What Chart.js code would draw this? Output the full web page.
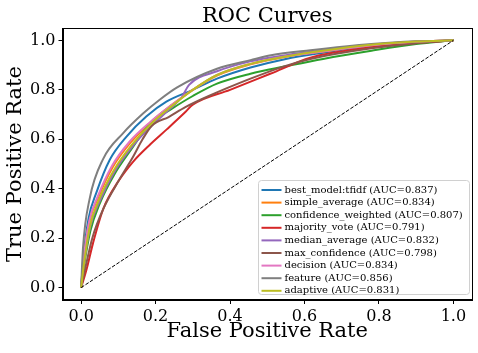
<!DOCTYPE html>
<html>
<head>
<meta charset="utf-8">
<script src="https://cdn.jsdelivr.net/npm/chart.js@4.4.1/dist/chart.umd.min.js"></script>
<style>
  html, body { margin: 0; padding: 0; background: #ffffff; }
  #wrap { width: 478px; height: 353px; position: relative; }
</style>
</head>
<body>
<div id="wrap"><canvas id="c" width="478" height="353"></canvas></div>
<script>
// ---- data ----
const modelNames = ['best_model:tfidf', 'simple_average', 'confidence_weighted', 'majority_vote',
  'median_average', 'max_confidence', 'decision', 'feature', 'adaptive'];
const modelAuc = [0.837, 0.834, 0.807, 0.791, 0.832, 0.798, 0.834, 0.856, 0.831];
const modelColors = ['#1f77b4', '#ff7f0e', '#2ca02c', '#d62728', '#9467bd', '#8c564b', '#e377c2', '#7f7f7f', '#bcbd22'];

const bestModelFpr = [0, 0.006, 0.02, 0.041, 0.077, 0.122, 0.175, 0.229, 0.3, 0.365, 0.455, 0.55, 0.65, 0.78, 0.9, 1];
const bestModelTpr = [0, 0.12, 0.28, 0.384, 0.517, 0.611, 0.692, 0.752, 0.8, 0.845, 0.89, 0.925, 0.95, 0.978, 0.993, 1];

const simpleAverageFpr = [0, 0.007, 0.022, 0.046, 0.084, 0.132, 0.186, 0.24, 0.3, 0.365, 0.455, 0.55, 0.65, 0.78, 0.9, 1];
const simpleAverageTpr = [0, 0.115, 0.265, 0.365, 0.485, 0.585, 0.668, 0.735, 0.8, 0.858, 0.903, 0.934, 0.955, 0.98, 0.994, 1];

const confWeightedFpr = [0, 0.008, 0.025, 0.05, 0.09, 0.135, 0.186, 0.24, 0.3, 0.365, 0.455, 0.55, 0.65, 0.78, 0.9, 1];
const confWeightedTpr = [0, 0.09, 0.23, 0.34, 0.46, 0.56, 0.665, 0.72, 0.775, 0.825, 0.865, 0.895, 0.925, 0.958, 0.985, 1];

const majorityVoteFpr = [0, 0.014, 0.032, 0.06, 0.1, 0.14, 0.186, 0.23, 0.28, 0.3, 0.4, 0.508, 0.616, 0.78, 0.9, 1];
const majorityVoteTpr = [0, 0.07, 0.18, 0.32, 0.43, 0.51, 0.58, 0.64, 0.71, 0.74, 0.8, 0.865, 0.93, 0.972, 0.99, 1];

const medianAverageFpr = [0, 0.008, 0.025, 0.05, 0.09, 0.14, 0.186, 0.24, 0.27, 0.29, 0.365, 0.455, 0.55, 0.65, 0.78, 0.9, 1];
const medianAverageTpr = [0, 0.1, 0.25, 0.35, 0.47, 0.575, 0.65, 0.725, 0.77, 0.82, 0.875, 0.915, 0.94, 0.96, 0.982, 0.995, 1];

const maxConfidenceFpr = [0, 0.01, 0.03, 0.06, 0.1, 0.14, 0.165, 0.19, 0.235, 0.28, 0.343, 0.455, 0.545, 0.616, 0.78, 0.9, 1];
const maxConfidenceTpr = [0, 0.07, 0.2, 0.32, 0.43, 0.53, 0.6, 0.655, 0.69, 0.73, 0.775, 0.845, 0.895, 0.925, 0.968, 0.988, 1];

const decisionFpr = [0, 0.007, 0.022, 0.045, 0.082, 0.13, 0.186, 0.24, 0.3, 0.365, 0.455, 0.55, 0.65, 0.78, 0.9, 1];
const decisionTpr = [0, 0.12, 0.27, 0.37, 0.49, 0.59, 0.67, 0.735, 0.8, 0.86, 0.905, 0.935, 0.955, 0.98, 0.994, 1];

const featureFpr = [0, 0.005, 0.023, 0.059, 0.113, 0.167, 0.211, 0.258, 0.365, 0.455, 0.51, 0.616, 0.78, 0.9, 1];
const featureTpr = [0, 0.16, 0.36, 0.52, 0.625, 0.705, 0.76, 0.81, 0.885, 0.92, 0.94, 0.96, 0.985, 0.996, 1];

const adaptiveFpr = [0, 0.008, 0.024, 0.048, 0.088, 0.135, 0.186, 0.24, 0.3, 0.365, 0.455, 0.55, 0.65, 0.78, 0.9, 1];
const adaptiveTpr = [0, 0.1, 0.25, 0.355, 0.475, 0.575, 0.66, 0.73, 0.8, 0.86, 0.905, 0.935, 0.958, 0.982, 0.995, 1];

const chanceFpr = [0, 1];
const chanceTpr = [0, 1];

const xTickValues = [0.0, 0.2, 0.4, 0.6, 0.8, 1.0];
const yTickValues = [0.0, 0.2, 0.4, 0.6, 0.8, 1.0];

const chartTitle = 'ROC Curves';
const xAxisTitle = 'False Positive Rate';
const yAxisTitle = 'True Positive Rate';

// ---- build ----
const curves = [
  [bestModelFpr, bestModelTpr], [simpleAverageFpr, simpleAverageTpr], [confWeightedFpr, confWeightedTpr],
  [majorityVoteFpr, majorityVoteTpr], [medianAverageFpr, medianAverageTpr], [maxConfidenceFpr, maxConfidenceTpr],
  [decisionFpr, decisionTpr], [featureFpr, featureTpr], [adaptiveFpr, adaptiveTpr]
];
const toPts = (xs, ys) => xs.map((x, i) => ({ x: x, y: ys[i] }));
const SERIF = "'DejaVu Serif', serif";

const datasets = curves.map((c, i) => ({
  label: modelNames[i] + ' (AUC=' + modelAuc[i].toFixed(3) + ')',
  data: toPts(c[0], c[1]),
  borderColor: modelColors[i],
  backgroundColor: modelColors[i],
  borderWidth: 2,
  pointRadius: 0,
  cubicInterpolationMode: 'monotone',
  fill: false,
  order: 20 - i
}));
datasets.push({
  label: '_chance',
  data: toPts(chanceFpr, chanceTpr),
  borderColor: '#000000',
  borderWidth: 1,
  borderDash: [3.7, 1.6],
  pointRadius: 0,
  fill: false,
  order: 0
});

const frameAndLegend = {
  id: 'frameAndLegend',
  afterDraw(chart) {
    const ctx = chart.ctx;
    const a = chart.chartArea;
    ctx.save();
    // axes frame (all four spines)
    ctx.strokeStyle = '#000000';
    ctx.lineWidth = 1;
    ctx.strokeRect(Math.round(a.left) + 0.5, Math.round(a.top) + 0.5,
      Math.round(a.right - a.left) - 1, Math.round(a.bottom - a.top) - 1);
    // title
    ctx.fillStyle = '#000000';
    ctx.font = '21px ' + SERIF;
    ctx.textAlign = 'center';
    ctx.textBaseline = 'alphabetic';
    ctx.fillText(chartTitle, (a.left + a.right) / 2, 22);
    // legend
    const n = modelNames.length;
    const rowH = 12.6;
    const boxR = a.right - 2.5, boxB = a.bottom - 5.5;
    const boxW = 211, boxH = 114;
    const boxL = boxR - boxW, boxT = boxB - boxH;
    ctx.beginPath();
    const r = 3;
    ctx.moveTo(boxL + r, boxT);
    ctx.arcTo(boxR, boxT, boxR, boxB, r);
    ctx.arcTo(boxR, boxB, boxL, boxB, r);
    ctx.arcTo(boxL, boxB, boxL, boxT, r);
    ctx.arcTo(boxL, boxT, boxR, boxT, r);
    ctx.closePath();
    ctx.fillStyle = 'rgba(255,255,255,0.8)';
    ctx.fill();
    ctx.strokeStyle = '#d0d0d0';
    ctx.lineWidth = 1;
    ctx.stroke();
    ctx.font = '10px ' + SERIF;
    ctx.textAlign = 'left';
    ctx.textBaseline = 'middle';
    for (let i = 0; i < n; i++) {
      const y = boxT + 9.5 + i * rowH;
      ctx.strokeStyle = modelColors[i];
      ctx.lineWidth = 2;
      ctx.beginPath();
      ctx.moveTo(boxL + 3, y);
      ctx.lineTo(boxL + 23, y);
      ctx.stroke();
      ctx.fillStyle = '#000000';
      ctx.fillText(chart.data.datasets[i].label, boxL + 26, y);
    }
    ctx.restore();
  }
};

new Chart(document.getElementById('c'), {
  type: 'line',
  data: { datasets: datasets },
  options: {
    responsive: false,
    animation: false,
    devicePixelRatio: 1,
    layout: { padding: { left: 0, right: 6, top: 28, bottom: 0 } },
    plugins: { legend: { display: false }, title: { display: false }, tooltip: { enabled: false } },
    scales: {
      x: {
        type: 'linear', min: -0.05, max: 1.05,
        afterBuildTicks: (s) => { s.ticks = xTickValues.map(v => ({ value: v })); },
        afterFit: (s) => { s.height = 53; },
        ticks: { color: '#000000', font: { family: SERIF, size: 16 }, padding: 3, maxRotation: 0,
          callback: (v) => Number(v).toFixed(1) },
        grid: { drawOnChartArea: false, color: '#000000', tickLength: 4, tickWidth: 1 },
        border: { color: '#000000', width: 1 },
        title: { display: true, text: xAxisTitle, color: '#000000', font: { family: SERIF, size: 21 }, padding: { top: 0, bottom: 9 } }
      },
      y: {
        type: 'linear', min: -0.05, max: 1.05,
        afterBuildTicks: (s) => { s.ticks = yTickValues.map(v => ({ value: v })); },
        afterFit: (s) => { s.width = 62.5; },
        ticks: { color: '#000000', font: { family: SERIF, size: 16 }, padding: 3,
          callback: (v) => Number(v).toFixed(1) },
        grid: { drawOnChartArea: false, color: '#000000', tickLength: 4, tickWidth: 1 },
        border: { color: '#000000', width: 1 },
        title: { display: true, text: yAxisTitle, color: '#000000', font: { family: SERIF, size: 21 }, padding: { top: 3, bottom: 0 } }
      }
    }
  },
  plugins: [frameAndLegend]
});
</script>
</body>
</html>
